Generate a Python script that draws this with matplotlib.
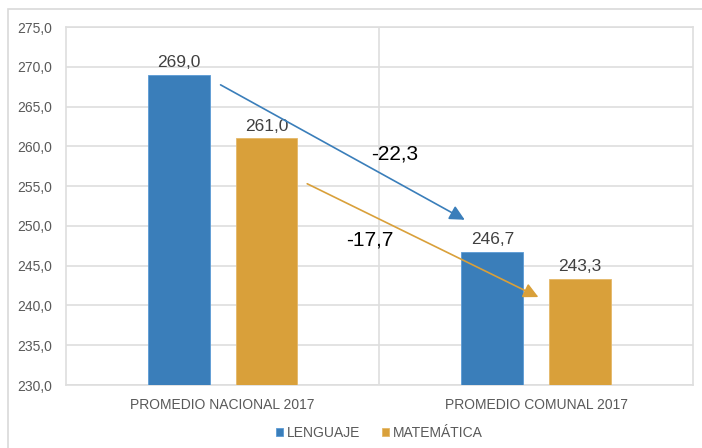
import numpy as np
import matplotlib
matplotlib.use("Agg")
import matplotlib.pyplot as plt
from matplotlib.patches import Rectangle

plt.rcParams["font.family"] = ["Liberation Sans", "DejaVu Sans"]

categories = ["PROMEDIO NACIONAL 2017", "PROMEDIO COMUNAL 2017"]
series_names = ["LENGUAJE", "MATEMÁTICA"]
lenguaje = [269.0, 246.7]
matematica = [261.0, 243.3]
diff_labels = ["-22,3", "-17,7"]

BLUE = "#3A7EBA"
ORANGE = "#D9A03A"
GRID = "#DEDEDE"
TXT = "#595959"

fig = plt.figure(figsize=(7.02, 4.48), dpi=100)
ax = fig.add_axes([0.0936, 0.1406, 0.8936, 0.7991])

# outer chart frame (left and top visible)
fig.patches.append(Rectangle((8 / 702, -0.1), 1.2, 1 - 9 / 448 + 0.1, transform=fig.transFigure,
                             fill=False, edgecolor="#D9D9D9", linewidth=1.2))

x = np.arange(len(categories))
w = 0.197
off = 0.14
ax.bar(x - off, lenguaje, width=w, color=BLUE, edgecolor="#5B9BD5", linewidth=0.6,
       zorder=3, label=series_names[0])
ax.bar(x + off, matematica, width=w, color=ORANGE, edgecolor="#E5B868", linewidth=0.6,
       zorder=3, label=series_names[1])

for xi, v in zip(x - off, lenguaje):
    ax.text(xi, v + 0.6, f"{v:.1f}".replace(".", ","), ha="center", va="bottom",
            fontsize=12.5, color="#404040", zorder=5)
for xi, v in zip(x + off, matematica):
    ax.text(xi, v + 0.6, f"{v:.1f}".replace(".", ","), ha="center", va="bottom",
            fontsize=12.5, color="#404040", zorder=5)

# change arrows
ax.annotate("", xy=(0.78, 250.6), xytext=(-0.014, 267.9),
            arrowprops=dict(arrowstyle="-|>,head_length=0.6,head_width=0.3", color=BLUE,
                            lw=1.2, mutation_scale=15), zorder=6)
ax.annotate("", xy=(1.015, 240.9), xytext=(0.262, 255.45),
            arrowprops=dict(arrowstyle="-|>,head_length=0.6,head_width=0.3", color=ORANGE,
                            lw=1.2, mutation_scale=15), zorder=6)
ax.text(0.548, 259.0, diff_labels[0], ha="center", va="center", fontsize=15, color="black", zorder=7)
ax.text(0.468, 248.2, diff_labels[1], ha="center", va="center", fontsize=15, color="black", zorder=7)

ax.set_xlim(-0.5, 1.5)
ax.set_ylim(230, 275)
yt = np.arange(230, 276, 5)
ax.set_yticks(yt)
ax.set_yticklabels([f"{v:.1f}".replace(".", ",") for v in yt], color=TXT, fontsize=10)
ax.set_xticks(x)
ax.set_xticklabels(categories, color=TXT, fontsize=10)
ax.tick_params(length=0, pad=9)
ax.tick_params(axis="y", pad=10)
ax.grid(axis="y", color=GRID, linewidth=1.2, zorder=0)
ax.axvline(0.5, color=GRID, linewidth=1.2, zorder=0)
for s in ax.spines.values():
    s.set_color(GRID)
    s.set_linewidth(1.2)

ax.legend(loc="upper center", bbox_to_anchor=(0.5, -0.08), ncol=2, frameon=False,
          fontsize=10, handlelength=0.55, handleheight=0.55, handletextpad=0.3,
          columnspacing=1.5, labelcolor=TXT)

fig.savefig("out.png", dpi=100)
